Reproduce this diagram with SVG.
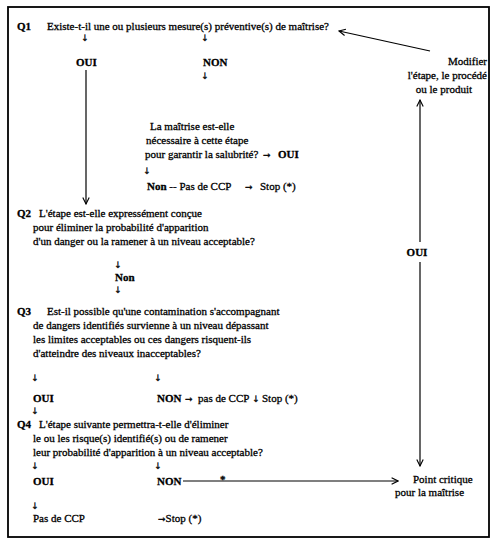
<svg xmlns="http://www.w3.org/2000/svg" width="500" height="547" viewBox="0 0 500 547">
<defs>
<marker id="ah" viewBox="0 0 10 10" refX="9" refY="5" markerWidth="8" markerHeight="8" orient="auto" markerUnits="userSpaceOnUse">
<path d="M1,1 L9,5 L1,9" fill="none" stroke="#000" stroke-width="1.4"/>
</marker>
</defs>
<style>
text{font-family:"Liberation Serif","Times New Roman",serif;font-size:11px;fill:#000;stroke:#000;stroke-width:0.3}
.b{font-weight:bold}
.ar{font-family:"DejaVu Sans",sans-serif;font-size:9px;text-anchor:middle}
.ah{font-family:"DejaVu Sans",sans-serif;font-size:9px}
.ln{stroke:#000;stroke-width:1.2;fill:none}
</style>
<rect x="0" y="0" width="500" height="547" fill="#fff"/>
<rect x="8" y="7" width="481" height="530" fill="#fff" stroke="#000" stroke-width="1.8"/>

<g id="q1">
<text x="17" y="30" class="b">Q1</text>
<text x="47" y="30">Existe-t-il une ou plusieurs mesure(s) préventive(s) de maîtrise?</text>
<text x="85" y="41" class="ar">↓</text>
<text x="205" y="41" class="ar">↓</text>
<text x="76" y="66" class="b">OUI</text>
<text x="203" y="66" class="b">NON</text>
<text x="205" y="79" class="ar">↓</text>
</g>

<g id="q1-maitrise">
<text x="150" y="130">La maîtrise est-elle</text>
<text x="146" y="144">nécessaire à cette étape</text>
<text x="145" y="158">pour garantir la salubrité?</text>
<text x="263" y="158" class="ah">→</text>
<text x="278" y="158" class="b">OUI</text>
<text x="147" y="174" class="ar">↓</text>
<text x="147" y="190"><tspan class="b">Non</tspan> -- Pas de CCP</text>
<text x="245" y="190" class="ah">→</text>
<text x="260" y="190">Stop (*)</text>
</g>

<g id="modifier">
<text x="487" y="65" text-anchor="end">Modifier</text>
<text x="487" y="79" text-anchor="end">l'étape, le procédé</text>
<text x="472" y="93" text-anchor="end">ou le produit</text>
</g>

<g id="q2">
<text x="17" y="217" class="b">Q2</text>
<text x="39" y="217">L'étape est-elle expressément conçue</text>
<text x="33" y="231">pour éliminer la probabilité d'apparition</text>
<text x="33" y="245">d'un danger ou la ramener à un niveau acceptable?</text>
<text x="118" y="268" class="ar">↓</text>
<text x="115" y="281" class="b">Non</text>
<text x="118" y="293" class="ar">↓</text>
</g>

<g id="q3">
<text x="17" y="315" class="b">Q3</text>
<text x="47" y="315">Est-il possible qu'une contamination s'accompagnant</text>
<text x="33" y="329">de dangers identifiés survienne à un niveau dépassant</text>
<text x="33" y="343">les limites acceptables ou ces dangers risquent-ils</text>
<text x="33" y="357">d'atteindre des niveaux inacceptables?</text>
<text x="35" y="381" class="ar">↓</text>
<text x="158" y="381" class="ar">↓</text>
<text x="33" y="402" class="b">OUI</text>
<text x="157" y="402" class="b">NON</text>
<text x="185" y="402" class="ah">→</text>
<text x="198" y="402">pas de CCP</text>
<text x="256" y="402" class="ar">↓</text>
<text x="262" y="402">Stop (*)</text>
<text x="35" y="414" class="ar">↓</text>
</g>

<g id="q4">
<text x="17" y="428" class="b">Q4</text>
<text x="39" y="428">L'étape suivante permettra-t-elle d'éliminer</text>
<text x="33" y="442">le ou les risque(s) identifié(s) ou de ramener</text>
<text x="33" y="456">leur probabilité d'apparition à un niveau acceptable?</text>
<text x="35" y="469" class="ar">↓</text>
<text x="158" y="469" class="ar">↓</text>
<text x="33" y="485" class="b">OUI</text>
<text x="157" y="485" class="b">NON</text>
<text x="35" y="509" class="ar">↓</text>
<text x="33" y="522">Pas de CCP</text>
<text x="158" y="522"><tspan class="ah">→</tspan>Stop (*)</text>
</g>

<g id="point-critique">
<text x="413" y="483">Point critique</text>
<text x="395" y="496">pour la maîtrise</text>
</g>

<g id="oui-right">
<text x="417" y="256" class="b" text-anchor="middle">OUI</text>
</g>

<g id="connectors">
<line class="ln" x1="86" y1="70" x2="86" y2="204" marker-end="url(#ah)"/>
<line class="ln" x1="430" y1="51" x2="339" y2="31" marker-end="url(#ah)"/>
<line class="ln" x1="420" y1="242" x2="420" y2="100" marker-end="url(#ah)"/>
<line class="ln" x1="420" y1="262" x2="420" y2="466" marker-end="url(#ah)"/>
<line class="ln" x1="183" y1="481" x2="398" y2="481" marker-end="url(#ah)"/>
<text x="220" y="483" class="b">*</text>
</g>
</svg>
